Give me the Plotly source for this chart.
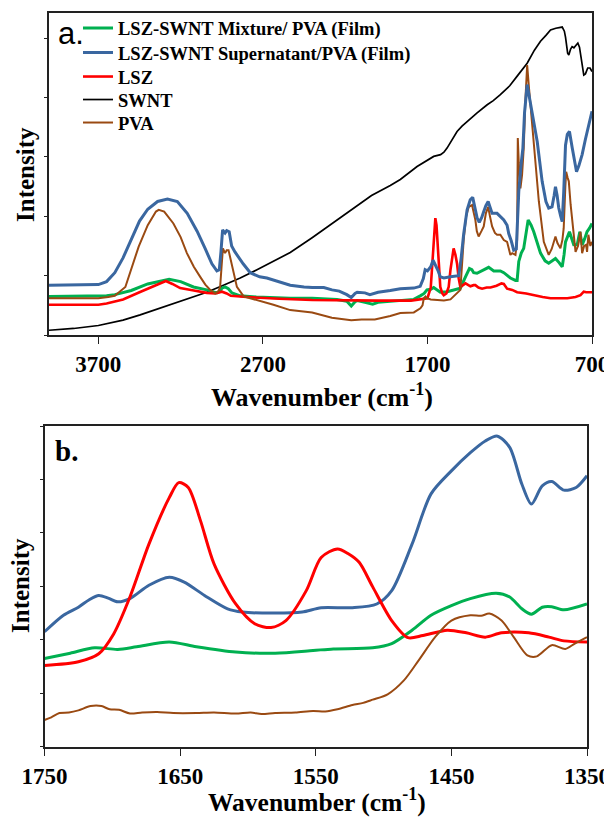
import plotly.graph_objects as go

# ---------------- Panel a (full spectrum) ----------------
swnt_wn = [4000, 3850, 3700, 3550, 3446, 3350, 3244, 3140, 3041, 2940, 2838, 2736, 2636, 2534, 2401, 2280,
           2163, 2040, 1926, 1865, 1763, 1713, 1662, 1620, 1600, 1581, 1550, 1520, 1490, 1459, 1400, 1337,
           1300, 1257, 1200, 1150, 1094, 1050, 1013, 980, 952, 920, 881, 868, 861, 848, 841, 830, 821, 810,
           800, 786, 776, 768, 755, 750, 740, 726, 712, 700]
swnt_int = [0.08, 0.11, 0.16, 0.25, 0.34, 0.43, 0.53, 0.62, 0.72, 0.84, 0.96, 1.10, 1.24, 1.39, 1.64, 1.88,
            2.12, 2.35, 2.52, 2.62, 2.84, 2.93, 3.01, 3.04, 3.08, 3.15, 3.30, 3.43, 3.52, 3.60, 3.74, 3.88,
            3.95, 4.05, 4.20, 4.38, 4.58, 4.80, 4.95, 5.05, 5.14, 5.17, 5.19, 5.12, 5.02, 4.75, 4.72, 4.82, 4.86, 4.84,
            4.88, 4.92, 4.85, 4.70, 4.40, 4.38, 4.40, 4.50, 4.50, 4.44]

sup_wn = [4000, 3800, 3700, 3650, 3600, 3550, 3500, 3450, 3400, 3340, 3280, 3220, 3160, 3100, 3050, 3010,
          2980, 2965, 2955, 2945, 2930, 2920, 2905, 2890, 2870, 2858, 2820, 2777, 2720, 2676, 2600, 2534,
          2450, 2400, 2330, 2280, 2236, 2190, 2163, 2140, 2127, 2080, 2050, 2033, 2000, 1926, 1865, 1783,
          1744, 1725, 1714, 1700, 1680, 1666, 1650, 1635, 1622, 1600, 1561, 1510, 1495, 1480, 1459, 1440,
          1425, 1410, 1398, 1385, 1370, 1358, 1345, 1331, 1318, 1307, 1277, 1257, 1236, 1216, 1206, 1190,
          1176, 1160, 1145, 1130, 1120, 1110, 1100, 1094, 1080, 1064, 1050, 1033, 1003, 980, 963, 943,
          930, 922, 912, 902, 890, 881, 872, 861, 850, 837, 820, 805, 794, 780, 760, 740, 720, 700]
sup_int = [0.84, 0.84, 0.85, 0.90, 1.05, 1.30, 1.62, 1.92, 2.12, 2.25, 2.29, 2.25, 2.05, 1.75, 1.45, 1.20,
           1.08, 1.10, 1.40, 1.77, 1.72, 1.76, 1.74, 1.50, 1.40, 1.35, 1.20, 1.05, 0.98, 0.96, 0.90, 0.84,
           0.81, 0.80, 0.80, 0.76, 0.74, 0.68, 0.63, 0.70, 0.72, 0.71, 0.68, 0.69, 0.72, 0.75, 0.78, 0.79,
           0.82, 0.95, 1.10, 1.08, 1.15, 1.26, 1.18, 1.08, 0.98, 0.96, 0.98, 1.00, 1.30, 1.70, 2.11, 2.28,
           2.32, 2.15, 1.97, 1.90, 1.98, 2.08, 2.18, 2.25, 2.15, 2.05, 2.05, 2.00, 1.94, 1.85, 1.71, 1.58,
           1.43, 1.45, 2.42, 2.90, 3.15, 3.75, 4.15, 4.22, 4.00, 3.77, 3.55, 3.26, 2.59, 2.25, 2.14, 2.16,
           2.35, 2.50, 2.35, 2.14, 2.00, 1.91, 2.40, 3.20, 3.38, 3.43, 3.15, 2.90, 2.75, 2.85, 3.04, 3.30, 3.55, 3.77]

mix_wn = [4000, 3800, 3650, 3600, 3500, 3400, 3300, 3270, 3200, 3122, 3041, 2980, 2960, 2949, 2930, 2910,
          2888, 2838, 2740, 2635, 2534, 2400, 2329, 2250, 2190, 2163, 2140, 2127, 2080, 2033, 2000, 1926,
          1783, 1744, 1720, 1703, 1680, 1662, 1640, 1622, 1580, 1541, 1500, 1469, 1445, 1430, 1419, 1399,
          1370, 1358, 1328, 1297, 1257, 1236, 1196, 1165, 1155, 1145, 1130, 1115, 1100, 1088, 1070, 1054,
          1013, 985, 963, 940, 922, 900, 881, 870, 861, 837, 820, 811, 790, 774, 765, 760, 745, 730, 715, 700]
mix_int = [0.65, 0.65, 0.66, 0.68, 0.75, 0.86, 0.93, 0.94, 0.90, 0.81, 0.76, 0.71, 0.74, 0.79, 0.81, 0.78,
           0.71, 0.66, 0.64, 0.63, 0.62, 0.62, 0.61, 0.60, 0.57, 0.49, 0.56, 0.58, 0.55, 0.52, 0.55, 0.57,
           0.60, 0.66, 0.70, 0.76, 0.77, 0.80, 0.75, 0.72, 0.73, 0.76, 0.79, 0.98, 1.12, 1.10, 1.05, 1.04,
           1.08, 1.10, 1.14, 1.08, 1.08, 1.05, 0.96, 0.92, 0.92, 1.24, 1.38, 1.46, 1.75, 1.94, 1.85, 1.74,
           1.38, 1.25, 1.21, 1.26, 1.29, 1.22, 1.15, 1.35, 1.57, 1.74, 1.58, 1.52, 1.52, 1.74, 1.60, 1.52, 1.62, 1.74, 1.80, 1.88]

lsz_wn = [4000, 3700, 3650, 3550, 3450, 3350, 3290, 3250, 3203, 3120, 3041, 2990, 2949, 2920, 2895, 2800,
          2737, 2600, 2400, 2200, 2000, 1800, 1744, 1700, 1680, 1670, 1662, 1652, 1645, 1638, 1630, 1622,
          1610, 1601, 1585, 1571, 1560, 1548, 1541, 1530, 1520, 1510, 1500, 1469, 1455, 1439, 1420, 1409,
          1390, 1368, 1340, 1317, 1280, 1250, 1236, 1216, 1185, 1155, 1100, 1054, 1000, 952, 900, 850,
          800, 770, 750, 735, 700]
lsz_int = [0.51, 0.51, 0.53, 0.60, 0.72, 0.84, 0.91, 0.86, 0.79, 0.75, 0.71, 0.70, 0.73, 0.70, 0.66, 0.64,
           0.63, 0.61, 0.59, 0.58, 0.58, 0.58, 0.60, 0.62, 0.80, 1.20, 1.60, 1.97, 1.85, 1.49, 1.05, 0.81,
           0.70, 0.67, 0.70, 0.81, 1.10, 1.40, 1.46, 1.35, 1.20, 0.95, 0.81, 0.87, 0.84, 0.82, 0.84, 0.84,
           0.80, 0.78, 0.80, 0.80, 0.83, 0.87, 0.86, 0.78, 0.76, 0.72, 0.70, 0.67, 0.64, 0.62, 0.62, 0.62,
           0.64, 0.67, 0.73, 0.72, 0.72]

pva_wn = [4000, 3800, 3700, 3640, 3600, 3536, 3500, 3455, 3400, 3350, 3333, 3300, 3244, 3200, 3162, 3120,
          3081, 3050, 3020, 2990, 2970, 2960, 2950, 2943, 2930, 2920, 2909, 2895, 2888, 2870, 2858, 2817,
          2737, 2636, 2534, 2401, 2281, 2163, 2100, 2020, 1926, 1865, 1783, 1743, 1730, 1722, 1712, 1703,
          1680, 1640, 1600, 1560, 1520, 1500, 1480, 1465, 1449, 1429, 1418, 1409, 1400, 1389, 1372, 1358,
          1345, 1331, 1320, 1307, 1290, 1277, 1257, 1236, 1216, 1196, 1185, 1165, 1155, 1151, 1145, 1135,
          1125, 1115, 1105, 1094, 1084, 1074, 1054, 1023, 993, 963, 945, 922, 910, 892, 880, 872,
          862, 857, 848, 841, 830, 820, 800, 785, 770, 765, 760, 748, 736, 730, 722, 710, 700]
pva_int = [0.62, 0.62, 0.62, 0.64, 0.66, 0.81, 1.10, 1.49, 1.85, 2.08, 2.11, 2.08, 1.88, 1.65, 1.38, 1.15,
           0.98, 0.85, 0.76, 0.70, 0.74, 0.81, 1.20, 1.46, 1.38, 1.43, 1.43, 1.25, 1.15, 0.95, 0.81, 0.65,
           0.59, 0.51, 0.42, 0.38, 0.29, 0.25, 0.26, 0.26, 0.32, 0.37, 0.38, 0.45, 0.50, 0.62, 0.65, 0.62,
           0.60, 0.59, 0.58, 0.60, 0.70, 0.76, 1.60, 2.00, 2.16, 2.19, 2.05, 1.94, 1.75, 1.66, 1.75, 1.83,
           2.05, 2.16, 2.00, 1.83, 1.72, 1.69, 1.69, 1.60, 1.57, 1.35, 1.38, 1.35, 1.60, 3.32, 2.90, 2.47,
           2.70, 3.15, 3.95, 4.55, 4.20, 3.88, 3.15, 2.25, 1.57, 1.35, 1.45, 1.66, 1.55, 1.46, 1.60, 1.80,
           2.50, 2.75, 2.65, 2.59, 2.20, 1.91, 1.40, 1.50, 1.74, 1.55, 1.38, 1.50, 1.52, 1.40, 1.69, 1.50, 1.57]

# ---------------- Panel b (1750-1350 zoom) ----------------
b_sup_wn = [1750, 1736, 1725, 1717, 1710, 1703, 1696, 1687, 1673, 1658, 1647, 1632, 1615, 1604, 1580, 1560,
            1546, 1523, 1505, 1494, 1479, 1465, 1450, 1436, 1425, 1416, 1407, 1398, 1391, 1383, 1376, 1367, 1358, 1350]
b_sup_int = [2.15, 2.46, 2.61, 2.75, 2.83, 2.78, 2.71, 2.77, 3.02, 3.17, 3.08, 2.83, 2.58, 2.52, 2.50, 2.52,
             2.60, 2.60, 2.67, 2.92, 3.79, 4.73, 5.16, 5.50, 5.72, 5.81, 5.60, 4.91, 4.54, 4.88, 4.96, 4.80, 4.85, 5.07]

b_lsz_wn = [1750, 1725, 1710, 1699, 1687, 1673, 1658, 1651, 1644, 1635, 1625, 1609, 1595, 1583, 1572, 1557,
            1546, 1534, 1526, 1518, 1508, 1494, 1482, 1471, 1453, 1439, 1425, 1413, 1393, 1378, 1367, 1350]
b_lsz_int = [1.52, 1.59, 1.74, 2.11, 2.80, 3.79, 4.66, 4.94, 4.85, 4.23, 3.42, 2.67, 2.30, 2.23, 2.36, 2.92,
             3.54, 3.70, 3.61, 3.45, 2.99, 2.36, 2.04, 2.08, 2.18, 2.13, 2.05, 2.13, 2.13, 2.05, 1.98, 1.96]

b_mix_wn = [1750, 1731, 1713, 1696, 1682, 1658, 1638, 1609, 1580, 1552, 1537, 1508, 1494, 1479, 1465, 1450,
            1436, 1417, 1407, 1398, 1391, 1383, 1376, 1367, 1350]
b_mix_int = [1.65, 1.75, 1.85, 1.82, 1.87, 1.96, 1.87, 1.77, 1.75, 1.80, 1.83, 1.85, 1.93, 2.18, 2.46, 2.64,
             2.77, 2.87, 2.80, 2.58, 2.48, 2.61, 2.62, 2.56, 2.67]

b_pva_wn = [1750, 1745, 1739, 1732, 1725, 1716, 1708, 1702, 1695, 1687, 1678, 1667, 1655, 1638, 1625, 1609,
            1598, 1590, 1580, 1565, 1552, 1543, 1534, 1523, 1515, 1508, 1497, 1485, 1474, 1462, 1450, 1436,
            1428, 1422, 1413, 1404, 1394, 1387, 1376, 1366, 1359, 1350]
b_pva_int = [0.50, 0.55, 0.63, 0.64, 0.68, 0.76, 0.76, 0.70, 0.69, 0.62, 0.64, 0.65, 0.63, 0.63, 0.64, 0.62,
             0.64, 0.61, 0.63, 0.64, 0.67, 0.66, 0.70, 0.78, 0.82, 0.88, 0.98, 1.24, 1.62, 2.05, 2.36, 2.46,
             2.45, 2.49, 2.36, 2.05, 1.71, 1.69, 1.90, 1.83, 1.93, 2.05]

names = ["LSZ-SWNT Mixture/ PVA (Film)", "LSZ-SWNT Supernatant/PVA (Film)", "LSZ", "SWNT", "PVA"]
colors = {"mix": "#00B050", "sup": "#3A67A0", "lsz": "#FF0000", "swnt": "#000000", "pva": "#9A4A12"}

fig = go.Figure()

legend_ids = ["legend", "legend2", "legend3", "legend4", "legend5"]
top = [
    (mix_wn, mix_int, names[0], colors["mix"], 3),
    (sup_wn, sup_int, names[1], colors["sup"], 3),
    (lsz_wn, lsz_int, names[2], colors["lsz"], 2.6),
    (swnt_wn, swnt_int, names[3], colors["swnt"], 1.7),
    (pva_wn, pva_int, names[4], colors["pva"], 2),
]
draw_order = [3, 0, 2, 4, 1]
for i in draw_order:
    x, y, n, c, w = top[i]
    fig.add_trace(go.Scatter(x=x, y=y, mode="lines", name=n, line=dict(color=c, width=w),
                             xaxis="x", yaxis="y", legend=legend_ids[i], showlegend=True))

bottom = [
    (b_mix_wn, b_mix_int, colors["mix"], 3),
    (b_sup_wn, b_sup_int, colors["sup"], 3),
    (b_lsz_wn, b_lsz_int, colors["lsz"], 3),
    (b_pva_wn, b_pva_int, colors["pva"], 2),
]
for x, y, c, w in bottom:
    fig.add_trace(go.Scatter(x=x, y=y, mode="lines", line=dict(color=c, width=w, shape="spline", smoothing=0.8),
                             xaxis="x2", yaxis="y2", showlegend=False))

# The page body adds an 8px margin, so the figure is 8px smaller and coordinates
# below are given in window pixels, converted to paper fractions.
OFF = 8
W, H = 612 - OFF, 818 - OFF
def px(v):
    return (v - OFF) / W
def py(v):
    return 1 - (v - OFF) / H

serif = "Liberation Serif"
tickfont = dict(family=serif, size=23, color="black", weight="bold")
axis_common = dict(showline=True, linecolor="#222", linewidth=1.6, mirror=True, showgrid=False,
                   zeroline=False, ticks="outside", tickcolor="#222", tickwidth=1.2, automargin=False)

fig.update_layout(
    template="none",
    width=W, height=H, autosize=False,
    margin=dict(l=0, r=0, t=0, b=0, pad=0),
    paper_bgcolor="white", plot_bgcolor="white",
    xaxis=dict(domain=[px(49), px(592)], anchor="y", range=[4000, 700], tickmode="array",
               tickvals=[3700, 2700, 1700, 700], ticklen=7, tickfont=tickfont,
               ticklabelstandoff=1, **axis_common),
    yaxis=dict(domain=[py(335), py(13.4)], anchor="x", range=[0, 5.42], tickmode="array",
               tickvals=[0, 1, 2, 3, 4, 5], ticklen=3, showticklabels=False, **axis_common),
    xaxis2=dict(domain=[px(44.5), px(587)], anchor="y2", range=[1750, 1350], tickmode="array",
                tickvals=[1750, 1650, 1550, 1450, 1350], ticklen=7, tickfont=tickfont,
                ticklabelstandoff=1, **axis_common),
    yaxis2=dict(domain=[py(746.7), py(426)], anchor="x2", range=[0, 6], tickmode="array",
                tickvals=[0, 1, 2, 3, 4, 5, 6], ticklen=3, showticklabels=False, **axis_common),
    showlegend=True,
)

legend_rows = [28.5, 53, 77, 100, 123]
for lid, row in zip(legend_ids, legend_rows):
    fig.update_layout({lid: dict(x=px(78), y=py(row), xanchor="left", yanchor="middle",
                                 bgcolor="rgba(0,0,0,0)", borderwidth=0, itemwidth=30,
                                 font=dict(family=serif, size=18.5, color="black", weight="bold"))})

title_font = dict(family=serif, size=26, color="black", weight="bold")
ann = [
    dict(text="a.", x=px(71), y=py(33), font=dict(family="Liberation Sans", size=31, color="black")),
    dict(text="b.", x=px(66), y=py(451), font=dict(family=serif, size=29, color="black", weight="bold")),
    dict(text="Wavenumber (cm<sup>-1</sup>)", x=px(322), y=py(396), font=title_font),
    dict(text="Wavenumber (cm<sup>-1</sup>)", x=px(317), y=py(800),
         font=dict(family=serif, size=25.5, color="black", weight="bold")),
    dict(text="Intensity", x=px(25), y=py(175), textangle=-90, font=dict(family=serif, size=25, color="black", weight="bold")),
    dict(text="Intensity", x=px(20), y=py(586), textangle=-90, font=dict(family=serif, size=25, color="black", weight="bold")),
]
for a in ann:
    a.update(xref="paper", yref="paper", showarrow=False, xanchor="center", yanchor="middle")
fig.update_layout(annotations=ann)

fig.write_html("out.html")
